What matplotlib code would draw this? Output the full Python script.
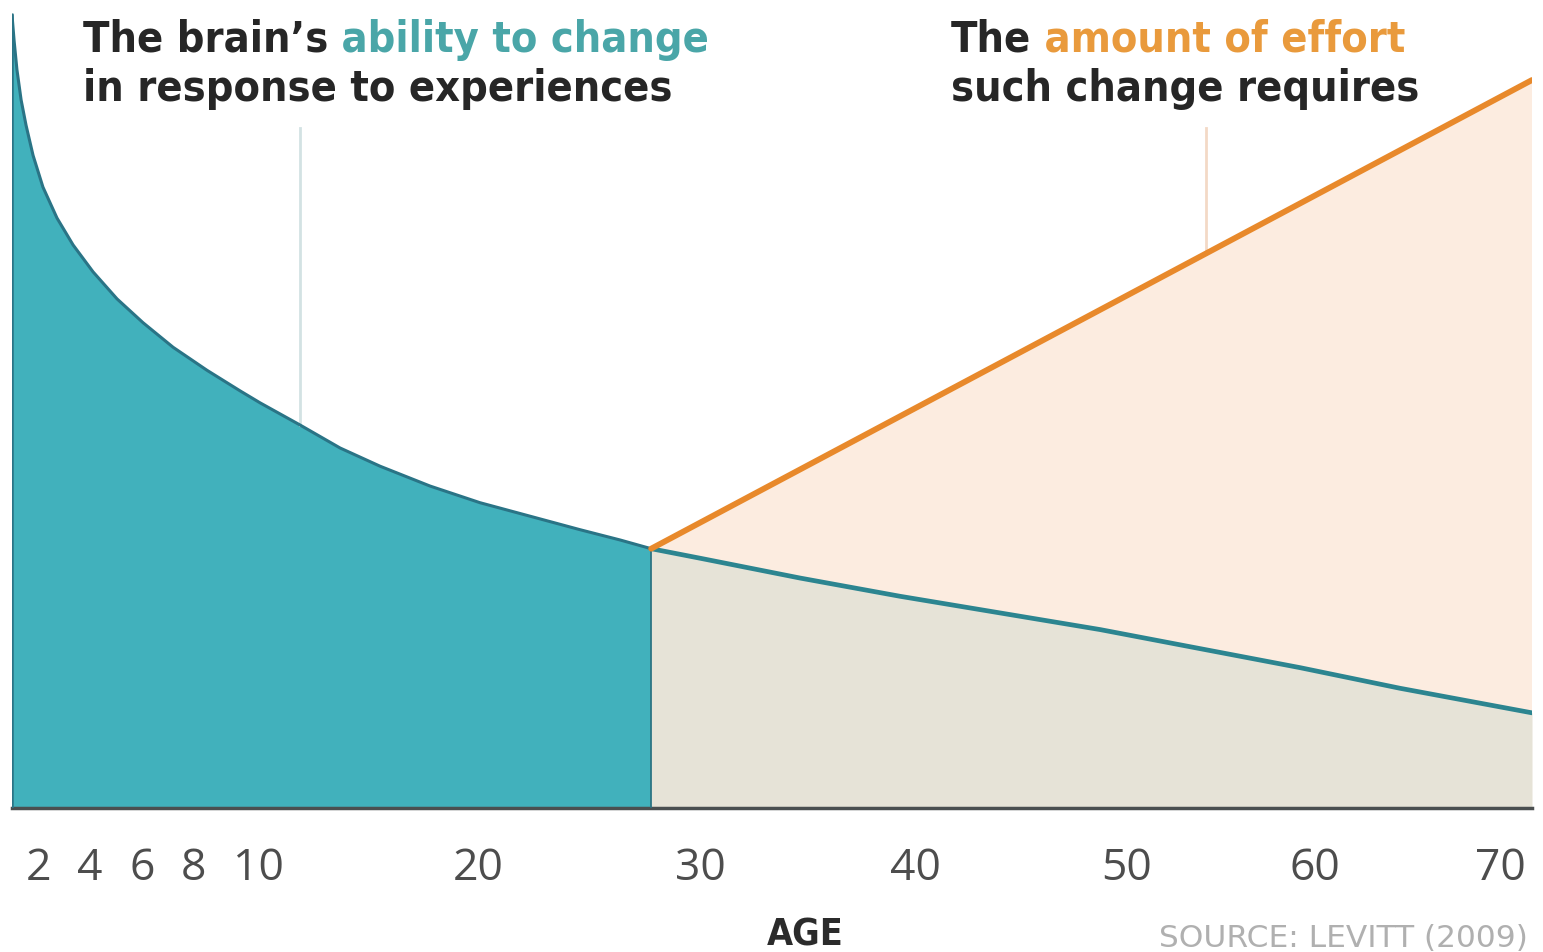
"""
Brain plasticity vs. effort over age (after Levitt 2009)
"""
import matplotlib
import matplotlib.pyplot as plt
import numpy as np

matplotlib.use("Agg")

# values: age in years, height above baseline (0-100)
plasticity_age = [1.0, 1.08, 1.19, 1.35, 1.54, 1.81, 2.19, 2.73, 3.35, 4.12,
                  5.04, 6.04, 7.22, 8.43, 9.45, 10.09, 11.91, 13.73, 15.55,
                  17.82, 20.09, 22.34, 24.59, 26.4, 27.8, 30.0, 34.65, 39.3,
                  44.01, 48.73, 53.88, 59.2, 64.59, 71.7]
plasticity = [100.0, 96.8, 93.1, 89.3, 86.1, 82.3, 78.3, 74.4, 71.0, 67.6,
              64.2, 61.2, 58.1, 55.2, 52.6, 51.1, 48.3, 45.4, 43.1,
              40.6, 38.5, 36.8, 35.1, 33.8, 32.7, 31.5, 29.0, 26.7,
              24.6, 22.5, 20.1, 17.7, 15.1, 12.0]
effort_age = [27.8, 71.7]
effort = [32.7, 91.8]
split_age = 27.8
tick_ages = [2, 4, 6, 8, 10, 20, 30, 40, 50, 60, 70]

# the age axis is not linear: early years are stretched out
scale_ages = [1, 2, 4, 6, 8, 10, 20, 30, 40, 50, 60, 70, 71.7]
scale_pos = [12, 38, 90, 142, 193, 258, 478, 700, 915, 1127, 1315, 1500, 1532]

TEAL = "#41b1bc"
TEAL_DARK = "#2c8590"
ORANGE = "#e8892b"
PEACH = "#fcece0"
BEIGE = "#e6e3d7"
INK = "#262626"

TITLE_FONT = ["DejaVu Sans"]
TICK_FONT = ["Open Sans", "DejaVu Sans"]


def age_to_pos(a):
    return np.interp(a, scale_ages, scale_pos)


def pos_to_age(p):
    return np.interp(p, scale_pos, scale_ages)


fig = plt.figure(figsize=(15.43, 9.52), dpi=100)
W, H = 1543, 952
ax = fig.add_axes([12 / W, 144 / H, 1520 / W, 808 / H])
ax.set_xscale("function", functions=(age_to_pos, pos_to_age))
ax.set_xlim(1, 71.7)
ax.set_ylim(0, 808 / 7.93)

age = np.array(plasticity_age)
val = np.array(plasticity)
young = age <= split_age
old = age >= split_age

# fills
ax.fill_between(age[young], 0, val[young], color=TEAL, lw=0, zorder=1)
ax.fill_between(age[old], 0, val[old], color=BEIGE, lw=0, zorder=1)
ax.fill(np.concatenate([age[old], effort_age[::-1]]),
        np.concatenate([val[old], effort[::-1]]),
        color=PEACH, lw=0, zorder=1)

# outlines
ax.plot(age[young], val[young], color="#2a7486", lw=2.2, zorder=3)
ax.plot([1, 1], [0, plasticity[0]], color="#2a7486", lw=1.8, zorder=3)
ax.plot([split_age, split_age], [0, effort[0]], color="#2a6f7e", lw=1.2, zorder=3)
ax.plot(age[old], val[old], color=TEAL_DARK, lw=3.4, zorder=4,
        solid_capstyle="round")
ax.plot(effort_age, effort, color=ORANGE, lw=4.2, zorder=5,
        solid_capstyle="round")

# pointer lines from the headings (the effort line is straight on screen)
top = (808 - 128) / 7.93
ax.plot([11.9, 11.9], [np.interp(11.9, plasticity_age, plasticity), top],
        color="#d3e2e3", lw=2, zorder=2)
effort_at = np.interp(age_to_pos(54.2), age_to_pos(effort_age), effort)
ax.plot([54.2, 54.2], [effort_at, top], color="#f3d9c6", lw=2, zorder=2)

# axes styling
for side in ["top", "right", "left"]:
    ax.spines[side].set_visible(False)
ax.spines["bottom"].set_color("#4a4f50")
ax.spines["bottom"].set_linewidth(2.5)
ax.set_yticks([])
ax.set_xticks(tick_ages)
ax.set_xticklabels([str(t) for t in tick_ages])
ax.tick_params(axis="x", length=0, pad=28, labelsize=32, labelcolor="#4d4d4d")
for lab in ax.get_xticklabels():
    lab.set_family(TICK_FONT)
ax.patch.set_alpha(0)


def heading(x, y, parts):
    style = dict(fontsize=31, fontweight="bold", family=TITLE_FONT,
                 fontstretch="condensed")
    prev = fig.text(x / W, 1 - y / H, parts[0][0], color=parts[0][1],
                    va="baseline", ha="left", **style)
    for text, color in parts[1:]:
        prev = ax.annotate(text, xy=(1, 0), xycoords=prev, va="bottom",
                           ha="left", color=color, annotation_clip=False,
                           **style)


heading(83, 52, [("The brain\u2019s", INK), (" ability to change", "#4aa6a8")])
heading(83, 101, [("in response to experiences", INK)])
heading(951, 52, [("The", INK), (" amount of effort", "#e99a3c")])
heading(951, 101, [("such change requires", INK)])

fig.text(805 / W, 1 - 946 / H, "AGE", ha="center", va="baseline",
         fontsize=27, fontweight="bold", color="#2b2b2b", family=TITLE_FONT,
         fontstretch="condensed")
fig.text(1528 / W, 1 - 947 / H, "SOURCE: LEVITT (2009)", ha="right",
         va="baseline", fontsize=22.5, color="#b0b0b0", family="DejaVu Sans")

fig.savefig("out.png", dpi=100, facecolor="white")
